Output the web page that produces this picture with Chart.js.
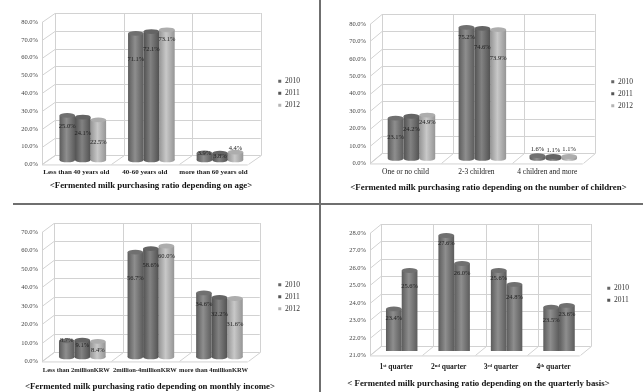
<!DOCTYPE html>
<html>
<head>
<meta charset="utf-8">
<script src="https://cdn.jsdelivr.net/npm/chart.js@4"></script>
<style>
html, body { margin: 0; padding: 0; background: #fff; overflow: hidden; }
#page { position: relative; width: 643px; height: 392px; filter: blur(0.6px); }
canvas { position: absolute; }
.rule { position: absolute; background: #6f6f6f; }
</style>
</head>
<body>
<div id="page">
  <canvas id="age" style="left:0;top:0"></canvas>
  <canvas id="children" style="left:322px;top:0"></canvas>
  <canvas id="income" style="left:0;top:206px"></canvas>
  <canvas id="quarter" style="left:322px;top:206px"></canvas>
  <div class="rule" style="left:319px;top:0;width:2px;height:392px"></div>
  <div class="rule" style="left:13px;top:203px;width:630px;height:2px"></div>
</div>
<script>
const ageLabels = ["Less than 40 years old", "40-60 years old", "more than 60 years old"];
const age2010 = [25.0, 71.1, 3.9];
const age2011 = [24.1, 72.1, 3.8];
const age2012 = [22.5, 73.1, 4.4];

const childLabels = ["One or no child", "2-3 children", "4 children and more"];
const child2010 = [23.1, 75.2, 1.6];
const child2011 = [24.2, 74.6, 1.1];
const child2012 = [24.9, 73.9, 1.1];

const incomeLabels = ["Less than 2millionKRW", "2million-4millionKRW", "more than 4millionKRW"];
const income2010 = [8.7, 56.7, 34.6];
const income2011 = [9.1, 58.6, 32.2];
const income2012 = [8.4, 60.0, 31.6];

const quarterLabels = ["1\u02E2\u1D57 quarter", "2\u207F\u1D48 quarter", "3\u02B3\u1D48 quarter", "4\u1D57\u02B0 quarter"];
const quarter2010 = [23.4, 27.6, 25.6, 23.5];
const quarter2011 = [25.6, 26.0, 24.8, 23.6];

const years = ["2010", "2011", "2012"];
// side, middle and top colours of the cylinders, one row per year
const shades = [
    ["#5c5c5c", "#8e8e8e", "#707070"],
    ["#525252", "#828282", "#646464"],
    ["#959595", "#c8c8c8", "#adadad"]
];
const legendColors = ["#666666", "#555555", "#b4b4b4"];
const serif = "'Liberation Serif', serif";

// pseudo 3d box: gridlines go on a back wall, bars sit half way in
const box3d = {
    id: 'box3d',
    afterLayout(chart, args, opts) {
        // the captions are not centred on their panels in the original
        chart.titleBlock.left += opts.titleShift;
        chart.titleBlock.right += opts.titleShift;
    },
    beforeDatasetsDraw(chart, args, opts) {
        const { ctx } = chart;
        const xs = chart.scales.x, ys = chart.scales.y;
        const { dx, dy } = opts;
        const n = xs.ticks.length;
        ctx.save();
        ctx.strokeStyle = '#d2d2d2';
        ctx.lineWidth = 1;
        ctx.beginPath();
        ys.ticks.forEach(t => {
            const y = Math.round(ys.getPixelForValue(t.value)) + 0.5;
            ctx.moveTo(xs.left, y);
            ctx.lineTo(xs.left + dx, y - dy);
            ctx.lineTo(xs.right + dx, y - dy);
        });
        for (let i = 0; i <= n; i++) {
            const x = Math.round(xs.left + i * xs.width / n) + 0.5;
            ctx.moveTo(x, ys.bottom);
            ctx.lineTo(x + dx, ys.bottom - dy);
            ctx.lineTo(x + dx, ys.top - dy);
        }
        ctx.moveTo(xs.left, ys.bottom + 0.5);
        ctx.lineTo(xs.right, ys.bottom + 0.5);
        ctx.stroke();
        ctx.restore();

        // shade each cylinder from side to middle to side
        chart.data.datasets.forEach((ds, d) => {
            const s = shades[ds.shade];
            chart.getDatasetMeta(d).data.forEach(el => {
                const g = ctx.createLinearGradient(el.x - el.width / 2, 0, el.x + el.width / 2, 0);
                g.addColorStop(0, s[0]);
                g.addColorStop(0.45, s[1]);
                g.addColorStop(1, s[0]);
                el.options = Object.assign({}, el.options, { backgroundColor: g });
            });
        });
        ctx.save();
        ctx.translate(dx / 2, -dy / 2);
    },
    afterDatasetsDraw(chart, args, opts) {
        const { ctx } = chart;
        const ry = 2.4;
        chart.data.datasets.forEach((ds, d) => {
            const s = shades[ds.shade];
            chart.getDatasetMeta(d).data.forEach((el, i) => {
                ctx.fillStyle = el.options.backgroundColor;
                ctx.beginPath();
                ctx.ellipse(el.x, el.base, el.width / 2, ry, 0, 0, Math.PI * 2);
                ctx.fill();
                ctx.fillStyle = s[2];
                ctx.beginPath();
                ctx.ellipse(el.x, el.y, el.width / 2, ry, 0, 0, Math.PI * 2);
                ctx.fill();
            });
        });
        ctx.fillStyle = '#222';
        ctx.font = '6.5px ' + serif;
        ctx.textAlign = 'center';
        ctx.textBaseline = 'middle';
        chart.data.datasets.forEach((ds, d) => {
            chart.getDatasetMeta(d).data.forEach((el, i) => {
                ctx.fillText(ds.data[i].toFixed(1) + '%', el.x, el.y + opts.drops[d][i]);
            });
        });
        ctx.restore();
    }
};

function makePanel(id, w, h, p) {
    const canvas = document.getElementById(id);
    canvas.width = w;
    canvas.height = h;
    canvas.style.width = w + 'px';
    canvas.style.height = h + 'px';
    return new Chart(canvas, {
        type: 'bar',
        data: {
            labels: p.labels,
            datasets: p.series.map((values, i) => ({
                label: years[i],
                data: values,
                shade: i === 1 && p.series.length === 2 ? 0 : i,
                backgroundColor: legendColors[i],
                borderWidth: 0,
                categoryPercentage: p.cat,
                barPercentage: 1
            }))
        },
        options: {
            responsive: false,
            animation: false,
            layout: { padding: { left: 0, top: p.top, right: p.right, bottom: p.bottom } },
            scales: {
                x: {
                    grid: { display: false, drawTicks: false, tickLength: 0 },
                    border: { display: false },
                    afterFit(s) { s.height = p.xHeight; },
                    ticks: {
                        color: '#222',
                        maxRotation: 0,
                        autoSkip: false,
                        padding: p.xPad,
                        font: { family: serif, size: p.xSize, weight: p.xWeight }
                    }
                },
                y: {
                    min: p.min,
                    max: p.max,
                    grid: { display: false, drawTicks: false },
                    border: { color: '#d2d2d2' },
                    afterFit(s) { s.width = p.left; },
                    ticks: {
                        stepSize: p.step,
                        color: '#444',
                        padding: 4,
                        font: { family: serif, size: 6.5 },
                        callback: v => v.toFixed(1) + '%'
                    }
                },
                // empty axis, only keeps room between the plot and the legend
                gap: {
                    position: 'right',
                    grid: { display: false },
                    border: { display: false },
                    ticks: { display: false },
                    afterFit(s) { s.width = p.gap; }
                }
            },
            plugins: {
                box3d: { dx: p.dx, dy: p.dy, drops: p.drops, titleShift: p.titleShift },
                tooltip: { enabled: false },
                title: {
                    display: true,
                    position: 'bottom',
                    text: p.title,
                    color: '#111',
                    padding: { top: 1, bottom: 0 },
                    font: { family: serif, size: 8.8, weight: 'bold' }
                },
                legend: {
                    position: 'right',
                    fullSize: false,
                    labels: {
                        boxWidth: 3,
                        boxHeight: 3,
                        padding: 4.5,
                        color: '#333',
                        font: { family: serif, size: 7.5 }
                    }
                }
            }
        },
        plugins: [box3d]
    });
}

makePanel('age', 319, 203, {
    labels: ageLabels,
    series: [age2010, age2011, age2012],
    title: "<Fermented milk purchasing ratio depending on age>",
    min: 0, max: 80, step: 10, cat: 0.68,
    left: 42, top: 22, right: 9, bottom: 12, gap: 26, dx: 13, dy: 9,
    xHeight: 15, xPad: 4, xSize: 7, xWeight: 'bold', titleShift: -4,
    drops: [[11, 26, 0], [16, 17.5, 3], [22, 10, -4]]
});

makePanel('children', 321, 203, {
    labels: childLabels,
    series: [child2010, child2011, child2012],
    title: "<Fermented milk purchasing ratio depending on the number of children>",
    min: 0, max: 80, step: 10, cat: 0.67,
    left: 48, top: 24, right: 0, bottom: 10, gap: 24, dx: 12, dy: 10,
    xHeight: 18, xPad: 4, xSize: 7.5, xWeight: 'normal', titleShift: 6,
    drops: [[19, 10, -6], [13, 19, -6], [7, 29, -7]]
});

makePanel('income', 319, 186, {
    labels: incomeLabels,
    series: [income2010, income2011, income2012],
    title: "<Fermented milk purchasing ratio depending on monthly income>",
    min: 0, max: 70, step: 10, cat: 0.68,
    left: 42, top: 26, right: 9, bottom: 0, gap: 26, dx: 12, dy: 9,
    xHeight: 19, xPad: 5, xSize: 6.5, xWeight: 'bold', titleShift: -5,
    drops: [[-1, 26, 11], [5, 17, 17], [9, 10, 26]]
});

makePanel('quarter', 321, 186, {
    labels: quarterLabels,
    series: [quarter2010, quarter2011],
    title: "< Fermented milk purchasing ratio depending on the quarterly basis>",
    min: 21, max: 28, step: 1, cat: 0.6,
    left: 48, top: 27, right: 4, bottom: 3, gap: 23, dx: 11, dy: 9,
    xHeight: 22, xPad: 7, xSize: 7.5, xWeight: 'bold', titleShift: -2,
    drops: [[9, 8, 8, 13], [16, 10, 13, 9]]
});
</script>
</body>
</html>
